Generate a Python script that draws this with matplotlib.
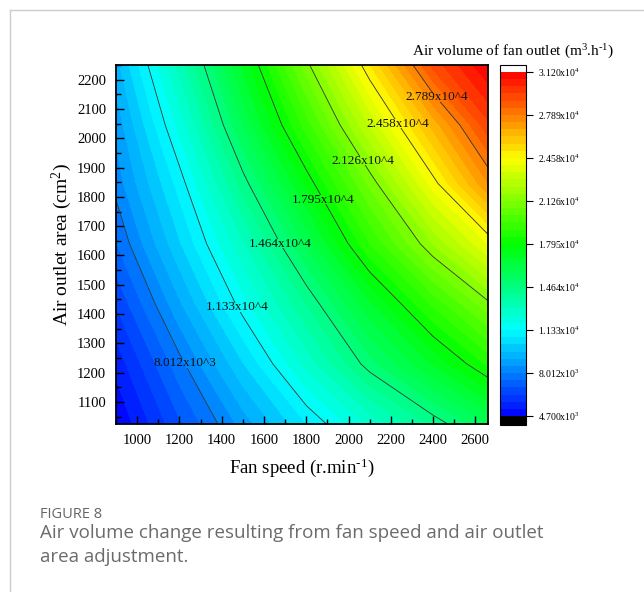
import numpy as np
import matplotlib
matplotlib.use("Agg")
import matplotlib.pyplot as plt
from matplotlib.colors import LinearSegmentedColormap
from matplotlib.lines import Line2D
from matplotlib.path import Path
from matplotlib.ticker import MultipleLocator

plt.rcParams['font.family'] = ['Liberation Serif', 'DejaVu Serif']
plt.rcParams['mathtext.fontset'] = 'custom'
plt.rcParams['mathtext.rm'] = 'Liberation Serif'
plt.rcParams['mathtext.it'] = 'Liberation Serif:italic'
plt.rcParams['mathtext.bf'] = 'Liberation Serif:bold'

# ---------------- data ----------------
fan_speed = [900, 1200, 1500, 1800, 2100, 2400, 2660]          # r/min
outlet_area = [1025, 1230, 1435, 1640, 1845, 2045, 2250]        # cm^2
# air volume (m3/h), rows = outlet_area, cols = fan_speed
air_volume = [
    [4700, 6816, 8787, 10758, 12539, 14244, 15720],
    [5435, 7806, 10178, 12598, 14965, 16913, 18600],
    [6395, 9017, 11626, 14091, 16735, 19178, 21111],
    [7433, 10148, 12890, 15851, 19019, 21833, 24067],
    [8230, 11006, 14344, 17528, 20840, 24294, 27313],
    [8750, 12066, 15775, 19303, 22967, 26446, 29400],
    [9450, 13180, 16950, 21040, 25100, 29185, 31200],
]
vmin, vmax = 4700, 31200
n_bands = 48
line_levels = [8012.5, 11325, 14637.5, 17950, 21262.5, 24575, 27887.5]
line_labels = ['8.012x10^3', '1.133x10^4', '1.464x10^4', '1.795x10^4',
               '2.126x10^4', '2.458x10^4', '2.789x10^4']
label_positions = [(1211, 1227), (1492, 1431), (1666, 1636), (1879, 1789),
                   (2068, 1925), (2223, 2044), (2447, 2158)]
cbar_ticks = [4700, 8012.5, 11325, 14637.5, 17950, 21262.5, 24575, 27887.5, 31200]
cbar_ticklabels = [r'4.700x10$\mathregular{^{3}}$', r'8.012x10$\mathregular{^{3}}$',
                   r'1.133x10$\mathregular{^{4}}$', r'1.464x10$\mathregular{^{4}}$',
                   r'1.795x10$\mathregular{^{4}}$', r'2.126x10$\mathregular{^{4}}$',
                   r'2.458x10$\mathregular{^{4}}$', r'2.789x10$\mathregular{^{4}}$',
                   r'3.120x10$\mathregular{^{4}}$']

# ---------------- figure ----------------
W, H = 644, 592
fig = plt.figure(figsize=(W / 100, H / 100), dpi=100)

def fx(px):
    return px / W

def fy(py):
    return 1 - py / H

ax = fig.add_axes([fx(116), fy(424), fx(488) - fx(116), fy(65) - fy(424)])
cax = fig.add_axes([fx(500), fy(425), fx(526) - fx(500), fy(65) - fy(425)])

cmap = LinearSegmentedColormap.from_list(
    'origin_rainbow',
    [(0.0, '#0000ff'), (0.25, '#00ffff'), (0.5, '#00ff00'),
     (0.75, '#ffff00'), (1.0, '#ff0000')]).with_extremes(over='white', under='black')

X = np.array(fan_speed)
Y = np.array(outlet_area)
Z = np.array(air_volume, dtype=float)
fill_levels = np.linspace(vmin, vmax, n_bands + 1)

cf = ax.contourf(X, Y, Z, levels=fill_levels, cmap=cmap, extend='both',
                 vmin=vmin, vmax=vmax)
cs = ax.contour(X, Y, Z, levels=line_levels, colors='#333333', linewidths=0.6)

ax.set_xlim(900, 2660)
ax.set_ylim(1025, 2250)

fmt = {lv: lb for lv, lb in zip(line_levels, line_labels)}
texts = ax.clabel(cs, fmt=fmt, manual=label_positions, inline=False,
                  fontsize=9.5, colors='#111111')
for t in texts:
    t.set_rotation(0)

ax.xaxis.set_major_locator(MultipleLocator(200))
ax.xaxis.set_minor_locator(MultipleLocator(100))
ax.yaxis.set_major_locator(MultipleLocator(100))
ax.yaxis.set_minor_locator(MultipleLocator(50))
ax.tick_params(which='both', direction='in', top=False, right=False,
               labelsize=10.5, width=1.0)
ax.tick_params(which='major', length=6, pad=7)
ax.tick_params(which='minor', length=3.5)
for s in ax.spines.values():
    s.set_linewidth(1.3)

ax.set_xlabel('Fan speed (r.min$\\mathregular{^{\u20101}}$)', fontsize=13.5, labelpad=7)
ax.set_ylabel(r'Air outlet area (cm$\mathregular{^{2}}$)', fontsize=14, labelpad=2)

cb = fig.colorbar(cf, cax=cax, extendrect=True, extendfrac=(0.026, 0.02),
                  ticks=cbar_ticks)
cb.ax.set_yticklabels(cbar_ticklabels)
cb.ax.tick_params(labelsize=7, length=5, width=0.8, direction='out')
cb.ax.minorticks_off()
cb.outline.set_linewidth(0.8)
fig.text(fx(513), fy(52), 'Air volume of fan outlet (m$\\mathregular{^{3}}$.h$\\mathregular{^{\u20101}}$)',
         ha='center', va='center', fontsize=11)

# cut the contour lines under the (horizontal) labels with a clip path
fig.canvas.draw()
renderer = fig.canvas.get_renderer()
inv = ax.transData.inverted()
x0, x1 = ax.get_xlim()
y0, y1 = ax.get_ylim()
verts = [(x0 - 500, y0 - 500), (x1 + 500, y0 - 500), (x1 + 500, y1 + 500),
         (x0 - 500, y1 + 500), (x0 - 500, y0 - 500)]
codes = [Path.MOVETO, Path.LINETO, Path.LINETO, Path.LINETO, Path.CLOSEPOLY]
for t in texts:
    bb = t.get_window_extent(renderer)
    dy = bb.height * 0.12
    (a0, b0), (a1, b1) = inv.transform([(bb.x0 - 1, bb.y0 + dy), (bb.x1 + 1, bb.y1 - dy)])
    verts += [(a0, b0), (a0, b1), (a1, b1), (a1, b0), (a0, b0)]
    codes += [Path.MOVETO, Path.LINETO, Path.LINETO, Path.LINETO, Path.CLOSEPOLY]
clip = Path(verts, codes)
cs.set_clip_path(clip, ax.transData)

# frame and caption
fig.add_artist(Line2D([fx(10), 1.0], [fy(9.5), fy(9.5)], transform=fig.transFigure,
                      color='#cccccc', linewidth=1.0))
fig.add_artist(Line2D([fx(10), fx(10)], [fy(9.5), 0.0], transform=fig.transFigure,
                      color='#cccccc', linewidth=1.0))
fig.text(fx(40), fy(515), 'FIGURE 8', fontsize=10.5, color='#666666',
         family=['Open Sans', 'DejaVu Sans'], ha='left', va='center')
fig.text(fx(40), fy(533), 'Air volume change resulting from fan speed and air outlet',
         fontsize=13.5, color='#6b6b6b', family=['Open Sans', 'DejaVu Sans'],
         ha='left', va='center')
fig.text(fx(40), fy(557), 'area adjustment.',
         fontsize=13.5, color='#6b6b6b', family=['Open Sans', 'DejaVu Sans'],
         ha='left', va='center')

fig.savefig('out.png', dpi=100)
